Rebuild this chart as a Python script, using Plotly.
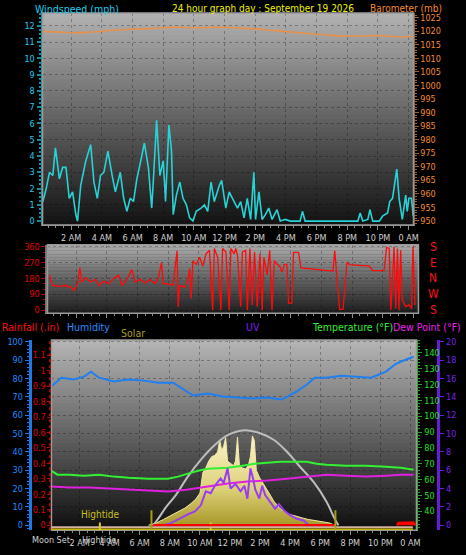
import plotly.graph_objects as go

W, H = 466, 555
def px(x): return x / W
def py(y): return 1 - y / H

FONT = "Liberation Sans Narrow, DejaVu Sans Condensed, Liberation Sans, Arial, sans-serif"

# ---------------- data ----------------
hour_ticks = [2, 4, 6, 8, 10, 12, 14, 16, 18, 20, 22, 24]
hour_labels = ["2 AM", "4 AM", "6 AM", "8 AM", "10 AM", "12 PM", "2 PM", "4 PM", "6 PM", "8 PM", "10 PM", "0 AM"]

wind_hours = [0.15, 0.37, 0.58, 0.80, 0.97, 1.12, 1.23, 1.44, 1.66, 1.87,
              2.09, 2.30, 2.41, 2.62, 2.95, 3.27, 3.48, 3.70, 3.91, 4.13,
              4.39, 4.67, 4.88, 5.20, 5.42, 5.63, 5.85, 6.06, 6.28, 6.49,
              6.77, 7.03, 7.25, 7.35, 7.57, 7.78, 8.00, 8.15, 8.37, 8.54,
              8.65, 8.86, 9.08, 9.29, 9.51, 9.72, 9.94, 10.15, 10.47, 10.69,
              10.90, 11.12, 11.33, 11.66, 11.81, 12.08, 12.30, 12.62, 12.84, 13.05,
              13.27, 13.48, 13.70, 13.91, 14.02, 14.24, 14.45, 14.66, 14.88, 15.10,
              15.42, 15.63, 15.96, 16.28, 16.92, 17.08, 17.25, 20.69, 20.84, 21.01,
              21.34, 21.48, 21.66, 22.09, 22.30, 22.63, 22.77, 22.95, 23.12, 23.23,
              23.38, 23.48, 23.59, 23.81, 23.91, 24.02, 24.19, 24.30]
wind_mph = [1.2, 2.0, 3.0, 2.8, 4.5, 3.5, 2.6, 3.3, 3.3, 1.4,
            1.8, 0.4, 0.0, 2.2, 3.7, 4.7, 2.4, 1.4, 2.8, 3.0,
            4.3, 2.8, 1.8, 3.0, 1.4, 0.6, 1.4, 1.2, 2.6, 3.5,
            4.8, 3.3, 0.8, 2.4, 6.2, 2.8, 3.7, 1.2, 5.9, 4.3,
            0.4, 1.6, 2.4, 1.4, 1.0, 0.2, 0.0, 0.6, 0.8, 1.0,
            0.6, 2.4, 1.2, 2.2, 2.5, 0.8, 1.8, 1.2, 0.8, 1.2,
            0.2, 1.4, 0.1, 3.0, 0.1, 1.8, 0.1, 0.4, 0.8, 0.1,
            0.7, 0.0, 0.1, 0.0, 0.0, 0.6, 0.0, 0.0, 0.5, 0.0,
            0.1, 0.7, 0.0, 0.0, 0.3, 0.5, 1.2, 1.4, 2.4, 3.2,
            1.4, 0.6, 0.1, 1.6, 0.6, 1.4, 1.4, 0.3]

baro_hours = [0, 1, 2, 3, 4, 5, 6, 7, 8, 9, 10, 11, 12, 13, 14, 15, 16, 17, 18, 19, 20, 21, 22, 23, 24.3]
baro_mb = [1020.0, 1019.8, 1019.5, 1019.6, 1020.0, 1020.5, 1020.8, 1021.0, 1021.3, 1021.5,
           1021.3, 1021.4, 1021.5, 1021.2, 1020.9, 1020.4, 1019.9, 1019.4, 1018.9, 1018.5,
           1018.2, 1018.3, 1018.4, 1018.1, 1018.0]

dir_hours = [0.26, 0.47, 0.90, 1.33, 1.66, 1.87, 2.09, 2.24, 2.37, 2.62,
             2.95, 3.27, 3.48, 3.81, 4.13, 4.45, 4.77, 4.99, 5.31, 5.63,
             5.85, 6.17, 6.49, 6.82, 7.14, 7.35, 7.57, 7.68, 8.00, 8.32,
             8.58, 8.65, 8.75, 9.08, 9.29, 9.40, 9.50, 9.61, 9.83, 10.05,
             10.26, 10.47, 10.69, 10.90, 11.01, 11.23, 11.44, 11.55, 11.76, 11.98,
             12.09, 12.30, 12.41, 12.52, 12.73, 12.84, 13.05, 13.16, 13.33, 13.48,
             13.63, 13.81, 13.98, 14.13, 14.24, 14.45, 14.62, 14.77, 14.92, 15.10,
             15.27, 15.42, 15.57, 15.74, 15.85, 16.06, 16.17, 16.50, 16.65, 18.75,
             18.86, 18.97, 19.18, 19.40, 19.50, 19.66, 19.83, 20.69, 21.12, 21.34,
             22.08, 22.24, 22.41, 22.52, 22.73, 22.84, 22.95, 23.05, 23.16, 23.27,
             23.48, 23.70, 23.87, 23.96, 24.09]
dir_deg = [197, 140, 135, 140, 130, 112, 150, 242, 160, 185,
           160, 175, 140, 165, 150, 180, 200, 140, 175, 230,
           160, 175, 155, 175, 150, 180, 270, 150, 150, 140,
           337, 19, 140, 130, 170, 236, 67, 280, 260, 300,
           250, 320, 340, 0, 350, 300, 0, 350, 330, 0,
           350, 320, 350, 310, 20, 330, 340, 0, 350, 30,
           330, 20, 320, 0, 300, 200, 340, 0, 280, 260,
           250, 215, 260, 260, 40, 40, 328, 328, 240, 222,
           337, 216, 5, 5, 112, 272, 258, 255, 250, 225,
           225, 356, 350, 0, 360, 10, 350, 0, 340, 60,
           20, 30, 10, 360, 30]
compass_labels = ["S", "E", "N", "W", "S"]
compass_deg = [360, 270, 180, 90, 0]

hum_hours = [0.15, 0.79, 1.64, 2.30, 2.76, 3.29, 4.28, 5.26, 6.25, 7.24,
             8.22, 8.88, 9.54, 10.53, 11.51, 12.50, 13.49, 14.47, 15.46, 16.45,
             17.11, 17.63, 18.42, 19.41, 20.39, 21.38, 22.37, 23.03, 23.68, 24.21]
hum_pct = [76.0, 80.5, 79.5, 81.1, 83.8, 80.5, 78.4, 79.5, 78.9, 77.8,
           77.8, 74.1, 70.8, 71.9, 70.3, 69.7, 69.2, 69.7, 68.6, 73.0,
           76.8, 80.5, 80.5, 81.6, 81.1, 80.5, 83.8, 88.1, 90.3, 91.9]

temp_hours = [0.13, 0.53, 1.32, 2.30, 3.29, 4.28, 5.26, 6.58, 7.89, 8.55,
              9.21, 9.87, 10.53, 11.84, 12.83, 13.62, 14.47, 15.33, 16.45, 17.11,
              17.76, 18.42, 19.74, 21.05, 22.37, 23.36, 24.21]
temp_f = [65.6, 63.1, 63.1, 62.5, 63.1, 61.9, 61.2, 60.6, 60.6, 61.9,
          63.8, 65.6, 66.9, 67.5, 68.8, 70.0, 70.6, 71.2, 71.2, 71.2,
          70.0, 69.4, 68.8, 68.8, 68.1, 67.5, 66.3]

dew_hours = [0.13, 1.32, 2.63, 3.95, 5.26, 6.58, 7.89, 9.21, 10.53, 11.84,
             13.16, 14.47, 15.79, 17.11, 18.42, 19.74, 21.05, 22.37, 23.36, 24.21]
dew_f = [55.6, 55.0, 55.0, 54.4, 53.8, 53.1, 52.5, 53.8, 55.6, 57.5,
         58.8, 59.4, 60.6, 61.9, 63.1, 62.5, 61.9, 62.5, 63.1, 63.1]

uv_hours = [7.57, 8.03, 8.75, 9.21, 9.67, 10.07, 10.39, 10.72, 10.99, 11.38,
            11.58, 11.84, 12.04, 12.37, 12.70, 12.96, 13.16, 13.36, 13.55, 13.68,
            13.95, 14.14, 14.34, 14.67, 15.00, 15.26, 15.59, 15.99, 16.45, 16.91, 17.24]
uv_idx = [0, 0.2, 0.8, 1.2, 1.5, 2.2, 3.7, 3.5, 4.3, 5.1,
          4.6, 6.2, 4.0, 4.5, 3.7, 4.3, 2.9, 6.2, 5.0, 3.9,
          2.9, 4.3, 3.3, 2.6, 1.8, 2.3, 1.6, 1.1, 0.7, 0.5, 0]

solar_hours = [6.58, 7.11, 7.57, 8.03, 8.55, 9.01, 9.41, 9.74, 10.00, 10.20,
               10.39, 10.59, 10.79, 10.99, 11.18, 11.32, 11.45, 11.58, 11.71, 11.84,
               12.04, 12.24, 12.37, 12.50, 12.63, 12.83, 13.03, 13.22, 13.36, 13.49,
               13.62, 13.75, 13.95, 14.14, 14.34, 14.54, 14.74, 14.93, 15.13, 15.33,
               15.59, 15.92, 16.25, 16.58, 16.91, 17.24, 17.57, 17.89, 18.22, 18.62, 18.95]
solar_wm2 = [0, 20, 50, 80, 120, 150, 190, 230, 280, 460,
             500, 560, 600, 610, 640, 745, 650, 690, 765, 560,
             540, 520, 560, 770, 520, 500, 490, 520, 600, 780,
             740, 480, 420, 380, 330, 300, 250, 205, 180, 145,
             120, 95, 85, 70, 60, 50, 43, 38, 34, 20, 0]

solar_max_hours = [6.91, 7.24, 7.76, 8.36, 9.21, 10.07, 10.99, 11.84, 12.96,
                   14.01, 14.93, 15.79, 16.64, 17.57, 18.42, 18.95, 19.21]
solar_max_wm2 = [0, 60, 160, 256, 427, 573, 700, 786, 829,
                 803, 744, 641, 513, 376, 205, 60, 0]

rain_hours = [6.9, 19.0, None, 23.1, 23.2, 24.2, 24.3]
rain_in = [0, 0, None, 0, 0.015, 0.018, 0]

sun_event_hours = [6.78, 19.01]       # sunrise / sunset
tide_event_hours = [3.35]             # hightide
other_event_hours = [10.72]
axis_event_names = ["Moon Set", "Hightide"]
axis_event_hours = [0.13, 3.3]

# ---------------- figure ----------------
fig = go.Figure()
fig.add_trace(go.Scatter(x=wind_hours, y=wind_mph, mode="lines",
                         line=dict(color="#27d3d6", width=1.6), xaxis="x", yaxis="y"))
fig.add_trace(go.Scatter(x=baro_hours, y=baro_mb, mode="lines",
                         line=dict(color="#e8914a", width=1.6, shape="spline"), xaxis="x", yaxis="y2"))
fig.add_trace(go.Scatter(x=dir_hours, y=dir_deg, mode="lines",
                         line=dict(color="#ff0a0a", width=1.3), xaxis="x2", yaxis="y3"))

fig.add_trace(go.Scatter(x=solar_hours, y=solar_wm2, mode="lines", fill="tozeroy",
                         line=dict(color="#f2e8a8", width=1),
                         fillgradient=dict(type="vertical",
                                           colorscale=[[0, "#a89828"], [0.4, "#dcd078"], [1, "#fcf6cc"]]),
                         xaxis="x3", yaxis="y4"))
fig.add_trace(go.Scatter(x=solar_max_hours, y=solar_max_wm2, mode="lines",
                         line=dict(color="#bdbdbd", width=2, shape="spline"), xaxis="x3", yaxis="y4"))
fig.add_trace(go.Scatter(x=hum_hours, y=hum_pct, mode="lines",
                         line=dict(color="#1f7ff0", width=2), xaxis="x3", yaxis="y5"))
fig.add_trace(go.Scatter(x=temp_hours, y=temp_f, mode="lines",
                         line=dict(color="#33f033", width=2), xaxis="x3", yaxis="y6"))
fig.add_trace(go.Scatter(x=dew_hours, y=dew_f, mode="lines",
                         line=dict(color="#e020e0", width=2), xaxis="x3", yaxis="y6"))
fig.add_trace(go.Scatter(x=uv_hours, y=uv_idx, mode="lines",
                         line=dict(color="#9a3cf0", width=2), xaxis="x3", yaxis="y7"))
fig.add_trace(go.Scatter(x=rain_hours, y=rain_in, mode="lines", fill="tozeroy", fillcolor="#ff0000",
                         line=dict(color="#ff0000", width=2.5), xaxis="x3", yaxis="y8"))

grid_col = "rgba(0,0,0,0.28)"

def xaxis_style(domain, anchor, rng, labels=True):
    return dict(domain=domain, anchor=anchor, range=rng, tickmode="array", tickvals=hour_ticks,
                ticktext=hour_labels, showticklabels=labels, ticks="outside", ticklen=4,
                tickcolor="#8c8c8c", showline=True, linecolor="#8c8c8c", linewidth=1,
                showgrid=True, gridcolor=grid_col, griddash="dot", zeroline=False,
                tickfont=dict(size=9, color="#d0d0d0"),
                minor=dict(tickmode="linear", tick0=0, dtick=0.5, ticks="outside", ticklen=2,
                           tickcolor="#8c8c8c", showgrid=False))

layout = dict(
    width=W, height=H, autosize=False, margin=dict(l=0, r=0, t=0, b=0, pad=0),
    paper_bgcolor="black", plot_bgcolor="#202020", showlegend=False, hovermode=False,
    font=dict(family=FONT, size=9),
    xaxis=xaxis_style([px(43), px(418)], "y", [0.13, 24.32]),
    yaxis=dict(domain=[py(224), py(10)], anchor="x", range=[-0.24, 12.8], tick0=0, dtick=1,
               ticks="outside", ticklen=4, tickwidth=2, tickcolor="#148c9c", showline=True,
               linecolor="#148c9c", linewidth=2, tickfont=dict(size=9, color="#22ccee"),
               showgrid=True, gridcolor=grid_col, griddash="dot", zeroline=False,
               minor=dict(dtick=0.25, ticks="outside", ticklen=2, tickcolor="#148c9c", showgrid=False)),
    yaxis2=dict(overlaying="y", anchor="x", side="right", range=[948.5, 1026.8], tick0=950, dtick=5,
                ticks="outside", ticklen=4, tickcolor="#a06020", showline=True, linecolor="#7a5a3a",
                linewidth=1, tickfont=dict(size=9, color="#f08a30"), showgrid=False, zeroline=False,
                minor=dict(dtick=1, ticks="outside", ticklen=2, tickcolor="#a06020", showgrid=False)),
    xaxis2=xaxis_style([px(48), px(423)], "y3", [0.13, 24.32], labels=False),
    yaxis3=dict(domain=[py(313), py(244)], anchor="x2", range=[-17, 371],
                tickmode="array", tickvals=[0, 90, 180, 270, 360], ticks="outside", ticklen=4,
                tickcolor="#c00000", showline=True, linecolor="#707070", linewidth=2,
                tickfont=dict(size=9, color="#e00000"), showgrid=True, gridcolor=grid_col,
                griddash="dot", zeroline=False,
                minor=dict(tickmode="linear", tick0=0, dtick=30, ticks="outside", ticklen=2,
                           tickcolor="#c00000", showgrid=False)),
    xaxis3=xaxis_style([px(52), px(421)], "y4", [0.13, 24.4]),
    yaxis4=dict(domain=[py(532), py(340)], anchor="x3", range=[-43.2, 1617.6], tick0=0, dtick=160,
                showticklabels=False, ticks="", showline=False, showgrid=True, gridcolor=grid_col,
                griddash="dot", zeroline=False),
    yaxis5=dict(overlaying="y4", anchor="free", position=px(30), side="left", range=[-2.7, 101.1],
                tick0=0, dtick=10, ticks="outside", ticklen=4, tickcolor="#1e78e6", showline=True,
                linecolor="#1e78e6", linewidth=3, tickfont=dict(size=9, color="#1e8cff"),
                showgrid=False, zeroline=False,
                minor=dict(dtick=2, ticks="outside", ticklen=2, tickcolor="#1e78e6", showgrid=False)),
    yaxis6=dict(overlaying="y4", anchor="x3", side="right", range=[28.1, 148.1],
                tickmode="array", tickvals=[40, 50, 60, 70, 80, 90, 100, 110, 120, 130, 140],
                ticks="outside", ticklen=4, tickcolor="#1ea01e", showline=True, linecolor="#1ea01e",
                linewidth=2, tickfont=dict(size=9, color="#22e022"), showgrid=False, zeroline=False,
                minor=dict(tickmode="linear", tick0=0, dtick=2, ticks="outside", ticklen=2,
                           tickcolor="#1ea01e", showgrid=False)),
    yaxis7=dict(overlaying="y4", anchor="free", position=px(443), side="right", range=[-0.54, 20.2],
                tick0=0, dtick=2, ticks="outside", ticklen=4, tickcolor="#6a1ad8", showline=True,
                linecolor="#6a1ad8", linewidth=3, tickfont=dict(size=9, color="#7a22ee"),
                showgrid=False, zeroline=False),
    yaxis8=dict(overlaying="y4", anchor="x3", side="left", range=[-0.032, 1.199],
                tickmode="array", tickvals=[0, 0.1, 0.2, 0.3, 0.4, 0.5, 0.6, 0.7, 0.8, 0.9, 1.0, 1.1, 1.2],
                ticktext=["0", "0.1", "0.2", "0.3", "0.4", "0.5", "0.6", "0.7", "0.8", "0.9", "1", "1.1", "1.2"],
                ticks="outside", ticklen=3, tickcolor="#d00000", showline=False,
                tickfont=dict(size=9, color="#e00000"), showgrid=False, zeroline=False),
)
fig.update_layout(**layout)

# ---------------- background gradients / frames ----------------
shapes = []
def gradient(xref, yref, top, bottom, n=48):
    out = []
    for i in range(n):
        t0, t1 = i / n, (i + 1) / n
        tm = (t0 + t1) / 2
        c = [round(bottom[k] + (top[k] - bottom[k]) * tm) for k in range(3)]
        out.append(dict(type="rect", xref=xref, yref=yref, x0=0, x1=1, y0=t0, y1=min(1, t1 + 0.004),
                        fillcolor=f"rgb({c[0]},{c[1]},{c[2]})", line=dict(width=0), layer="below"))
    return out

shapes += gradient("x domain", "y domain", (178, 178, 178), (18, 18, 18))
shapes += gradient("x2 domain", "y3 domain", (172, 172, 172), (28, 28, 28))
shapes += gradient("x3 domain", "y4 domain", (182, 182, 182), (14, 14, 14))
for xr, yr in [("x domain", "y domain"), ("x2 domain", "y3 domain"), ("x3 domain", "y4 domain")]:
    shapes.append(dict(type="rect", xref=xr, yref=yr, x0=0, x1=1, y0=0, y1=1,
                       line=dict(color="#9a9a9a", width=1.5), layer="above"))

# rain axis dotted line
shapes.append(dict(type="line", xref="paper", yref="paper", x0=px(50.5), x1=px(50.5), y0=py(532), y1=py(340),
                   line=dict(color="#e00000", width=1.5, dash="dot")))
# bottom baselines
shapes.append(dict(type="line", xref="x3 domain", yref="y4 domain", x0=0, x1=0.99, y0=0.016, y1=0.016,
                   line=dict(color="#d4b4a0", width=2)))
shapes.append(dict(type="line", xref="x3 domain", yref="y4 domain", x0=0, x1=0.99, y0=0.005, y1=0.005,
                   line=dict(color="#c8b400", width=1.5)))
# events
for h in sun_event_hours:
    shapes.append(dict(type="line", xref="x3", yref="y4 domain", x0=h, x1=h, y0=0, y1=0.105,
                       line=dict(color="#a89c18", width=2)))
for h in tide_event_hours:
    shapes.append(dict(type="line", xref="x3", yref="y4 domain", x0=h, x1=h, y0=0, y1=0.04,
                       line=dict(color="#d8cc20", width=2)))
for h in other_event_hours:
    shapes.append(dict(type="line", xref="x3", yref="y4 domain", x0=h, x1=h, y0=0, y1=0.04,
                       line=dict(color="#d8cc20", width=2, dash="dot")))
fig.update_layout(shapes=shapes)

# ---------------- text ----------------
ann = []
def label(text, x, y, color, size=11, xanchor="left"):
    ann.append(dict(text=text, x=px(x), y=py(y), xref="paper", yref="paper", xanchor=xanchor,
                    yanchor="middle", showarrow=False, font=dict(color=color, size=size, family=FONT)))

label("Windspeed (mph)", 33, 6, "#22ccee", size=10.5)
label("24 hour graph day : September 19 2026", 172, 6, "#f0f000", size=10)
label("Barometer (mb)", 372, 5.5, "#f08a30", size=10)
label("Rainfall (.in)", 0, 327, "#ff1010", size=10.5)
label("Humidity", 66, 327, "#2a8cff", size=10.5)
label("Solar", 120, 333, "#a89c20", size=10.5)
label("UV", 247, 327, "#7a22ee", size=10.5)
label("Temperature (°F)", 313, 327, "#33ee33", size=10.5)
label("Dew Point (°F)", 395, 327, "#ee22ee", size=10.5)

for t, d in zip(compass_labels, compass_deg):
    ann.append(dict(text=t, x=px(438), y=d, xref="paper", yref="y3", xanchor="center", yanchor="middle",
                    showarrow=False, font=dict(color="#ff1010", size=12, family=FONT)))

ann.append(dict(text="Hightide", x=tide_event_hours[0], y=0.085, xref="x3", yref="y4 domain",
                xanchor="center", yanchor="middle", showarrow=False,
                font=dict(color="#c8c020", size=10, family=FONT)))
for name, h in zip(axis_event_names, axis_event_hours):
    ann.append(dict(text=name, x=h, y=py(542), xref="x3", yref="paper", xanchor="center", yanchor="middle",
                    showarrow=False, font=dict(color="#d0d0d0", size=9, family=FONT)))
fig.update_layout(annotations=ann)

fig.write_html("out.html", config={"displayModeBar": False},
               post_script="document.body.style.margin='0';document.body.style.background='black';")
